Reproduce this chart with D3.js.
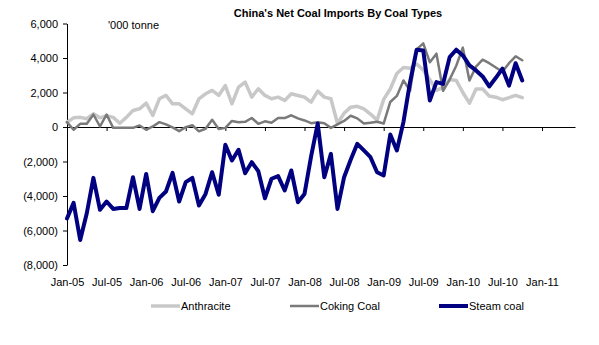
<!DOCTYPE html>
<html><head><meta charset="utf-8">
<script src="https://cdn.jsdelivr.net/npm/d3@7"></script>
<style>
body{margin:0;background:#fff}
svg{display:block}
text{font-family:"Liberation Sans",Arial,sans-serif;fill:#000}
</style>
</head><body>
<svg id="c" width="599" height="345"></svg>
<script>
const tickLabels = ["Jan-05","Jul-05","Jan-06","Jul-06","Jan-07","Jul-07","Jan-08","Jul-08","Jan-09","Jul-09","Jan-10","Jul-10","Jan-11"];
const yTicks = [-8000,-6000,-4000,-2000,0,2000,4000,6000];
const seriesNames = ["Anthracite","Coking Coal","Steam coal"];

// monthly net imports, '000 tonne, Jan-05 .. Oct-10
const anthracite = [280,530,560,480,765,530,650,560,220,560,960,1055,1380,667,1635,1830,1345,1345,1055,765,
  1635,1925,2120,1830,2400,1345,2310,2600,1730,2215,1830,1635,1730,1540,1925,1830,1730,1440,2080,1730,
  1635,200,800,1150,1200,1050,750,400,1600,2200,3100,3450,3400,3650,3300,2750,2120,2300,2750,2700,
  2000,1380,2200,2200,1800,1730,1580,1700,1830,1700];
const coking = [280,-160,185,185,725,30,725,-50,-50,-50,-50,90,-160,30,280,150,-20,-240,-10,100,
  -250,-100,420,-120,-50,350,280,300,520,185,330,250,520,520,680,500,380,220,280,220,
  -50,150,350,650,500,200,250,300,200,1450,1800,2700,2100,4500,4850,3750,4250,2100,2750,3550,
  4600,2700,3500,3900,3700,3450,3200,3700,4100,3870];
const steam = [-5300,-4400,-6550,-5000,-2950,-4800,-4320,-4750,-4700,-4700,-2910,-4750,-2720,-4880,-4110,-3740,-2660,-4320,-3200,-2950,
  -4550,-3880,-2620,-3930,-1030,-1940,-1320,-2680,-2040,-2560,-4130,-3000,-2850,-3680,-2520,-4360,-3880,-1700,200,-2910,
  -1560,-4750,-2910,-1900,-975,-1360,-1750,-2620,-2810,-435,-1360,300,2600,4480,4440,1540,2600,2500,4050,4480,
  4150,3570,3280,2930,2350,2850,3380,2400,3700,2700];

const colors = ["#c8c8c8","#7a7a7a","#000080"];
const widths = [3.5,2.5,4];
const allSeries = [anthracite, coking, steam];

const svg = d3.select("#c");
const x = d3.scaleLinear().domain([0,77]).range([67,575]);
const y = d3.scaleLinear().domain([-8000,6000]).range([265,23.5]);

const fmt = v => v < 0 ? "(" + d3.format(",")(-v) + ")" : d3.format(",")(v);

// y axis
const ya = svg.append("g").attr("transform","translate(67,0)")
  .call(d3.axisLeft(y).tickValues(yTicks).tickSize(4).tickSizeOuter(0).tickPadding(5).tickFormat(fmt));
ya.selectAll("text").style("font-size","11px");
ya.selectAll("path,line").attr("stroke","#000");

// x axis line with ticks at zero
const xa = svg.append("g").attr("transform","translate(0," + y(0) + ")")
  .call(d3.axisBottom(x).tickValues(d3.range(0, 73, 6)).tickSize(4).tickSizeOuter(0).tickFormat(""));
xa.selectAll("path,line").attr("stroke","#000");

// x labels at bottom
const xl = svg.append("g").attr("transform","translate(0,278)")
  .call(d3.axisBottom(x).tickValues(d3.range(0, 73, 6)).tickSize(0).tickPadding(0)
    .tickFormat((d,i) => tickLabels[i]));
xl.select(".domain").remove();
xl.selectAll("text").style("font-size","11px");

// lines
const line = d3.line().x((d,i) => x(i)).y(d => y(d)).curve(d3.curveLinear);
allSeries.forEach((s,k) => {
  svg.append("path").datum(s)
    .attr("d", line)
    .attr("fill","none")
    .attr("stroke", colors[k])
    .attr("stroke-width", widths[k])
    .attr("stroke-linejoin","round")
    .attr("stroke-linecap","round");
});

// title
svg.append("text").attr("x",338).attr("y",17).attr("text-anchor","middle")
  .style("font-size","11px").style("font-weight","bold").text("China's Net Coal Imports By Coal Types");
svg.append("text").attr("x",108).attr("y",29)
  .style("font-size","11px").text("'000 tonne");

// legend
const legX = [151, 290, 439];
const legY = 306;
seriesNames.forEach((n,k) => {
  svg.append("line").attr("x1",legX[k]).attr("x2",legX[k]+29).attr("y1",legY).attr("y2",legY)
    .attr("stroke",colors[k]).attr("stroke-width",widths[k]);
  svg.append("text").attr("x",legX[k]+30).attr("y",legY).attr("dy","0.35em")
    .style("font-size","11px").text(n);
});
</script>
</body></html>
